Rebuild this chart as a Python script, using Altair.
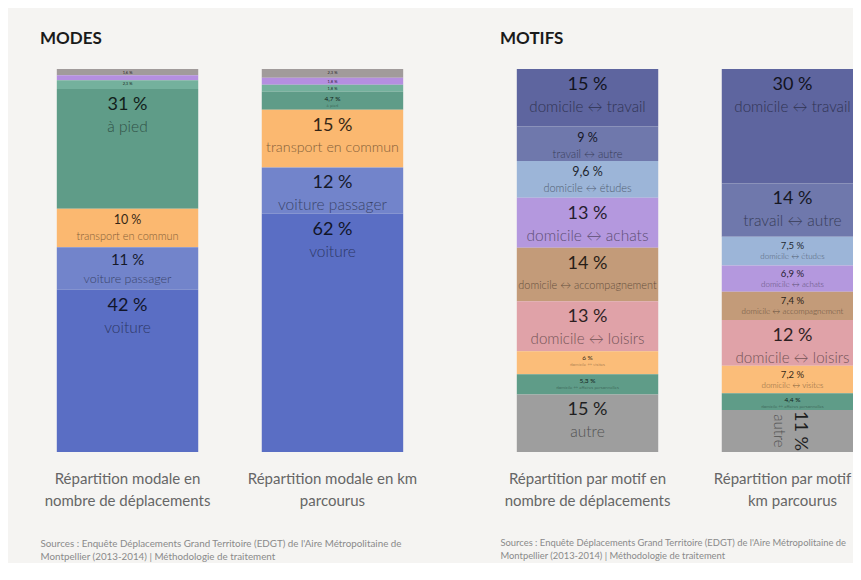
import altair as alt
import pandas as pd

# ---------------- data ----------------
mode_panels = ["Répartition modale en\nnombre de déplacements",
               "Répartition modale en km\nparcourus"]
mode_categories = ["autre", "deux-roues motorisés", "vélo", "à pied",
                   "transport en commun", "voiture passager", "voiture"]
mode_trips = [1.6, 1.3, 2.3, 31, 10, 11, 42]
mode_km = [2.3, 1.8, 1.8, 4.7, 15, 12, 62]

motif_panels = ["Répartition par motif en\nnombre de déplacements",
                "Répartition par motif en\nkm parcourus"]
motif_categories = ["domicile ↔ travail", "travail ↔ autre", "domicile ↔ études",
                    "domicile ↔ achats", "domicile ↔ accompagnement",
                    "domicile ↔ loisirs", "domicile ↔ visites",
                    "domicile ↔ affaires personnelles", "autre"]
motif_trips = [15, 9, 9.6, 13, 14, 13, 6, 5.3, 15]
motif_km = [30, 14, 7.5, 6.9, 7.4, 12, 7.2, 4.4, 11]

sources = ["Sources : Enquête Déplacements Grand Territoire (EDGT) de l'Aire Métropolitaine de",
           "Montpellier (2013-2014) | Méthodologie de traitement"]

# ---------------- styles ----------------
mode_colors = ["#a19b9b", "#b48fe0", "#74b19d", "#5f9c88", "#fbb870", "#7284cb", "#5a6ec4"]
motif_colors = ["#5e659f", "#6f78ac", "#9cb5d8", "#b498de", "#c39b79",
                "#e0a2a8", "#fbbd79", "#5f9c88", "#9e9e9e"]

FONT = "Lato"
# (min value, max value, pct size, label size, pct dy, label dy)
TIERS = [
    (12, 101, 18, 15.5, 16, 38),
    (11, 12, 15, 12.5, 13, 32),
    (8, 11, 12.5, 11, 11, 28),
    (6.5, 8, 9.5, 8, 9, 20),
    (4, 6.5, 6.5, 4.5, 7, 14),
    (1.5, 4, 4, None, 4, None),
]


def fmt(v):
    return f"{v:g}".replace(".", ",") + " %"


def build(title, panels, cats, series, colors, rotated_expr, source_size):
    rows = []
    for p, (panel, vals) in enumerate(zip(panels, series)):
        for i, (c, v) in enumerate(zip(cats, vals)):
            rows.append(dict(panel=panel, p=p, category=c, value=v, idx=i, pct=fmt(v)))
    df = pd.DataFrame(rows)

    base = (
        alt.Chart(df)
        .transform_joinaggregate(total="sum(value)", groupby=["panel"])
        .transform_window(cum="sum(value)", sort=[alt.SortField("idx")],
                          groupby=["panel"], frame=[None, 0])
        .transform_calculate(
            start="(datum.cum - datum.value) / datum.total",
            end="datum.cum / datum.total",
            mid="(datum.cum - datum.value / 2) / datum.total",
        )
    )

    xscale = alt.Scale(paddingInner=0.31, paddingOuter=0.082)
    yscale = alt.Scale(domain=[0, 1], reverse=True, nice=False, zero=False)
    x_axis = alt.X(
        "panel:N", sort=panels, scale=xscale,
        axis=alt.Axis(
            title=sources, labelExpr="split(datum.label, '\\n')",
            labelAngle=0, labelFontSize=15, labelColor="#666666", labelFont=FONT,
            labelLineHeight=22, labelPadding=19, labelLimit=400,
            domain=False, ticks=False, grid=False,
            titleFontSize=source_size, titleFontWeight="normal", titleColor="#8a8a8a",
            titleFont=FONT, titleAnchor="start", titleAlign="left",
            titleLineHeight=13, titlePadding=30,
        ),
    )

    bars = base.mark_bar().encode(
        y=alt.Y("start:Q", scale=yscale, axis=None),
        y2="end:Q",
        color=alt.Color("category:N", scale=alt.Scale(domain=cats, range=colors), legend=None),
    )

    layers = [bars]
    not_rot = f"!({rotated_expr})"
    for lo, hi, ps, ls, pdy, ldy in TIERS:
        flt = f"datum.value >= {lo} && datum.value < {hi} && {not_rot}"
        layers.append(
            base.transform_filter(flt)
            .mark_text(fontSize=ps, dy=pdy, baseline="middle", align="center",
                       font=FONT, color="#000000", opacity=0.8)
            .encode(y=alt.Y("start:Q", scale=yscale, axis=None), text="pct:N")
        )
        if ls is not None:
            layers.append(
                base.transform_filter(flt)
                .transform_calculate(lsize=f"min({ls}, 272 / length(datum.category))")
                .mark_text(dy=ldy, baseline="middle", align="center", font=FONT,
                           fontWeight=300, color="#000000", opacity=0.5)
                .encode(y=alt.Y("start:Q", scale=yscale, axis=None),
                        text="category:N", size=alt.Size("lsize:Q", scale=None))
            )
    # rotated labels (segments too short for stacked text)
    layers.append(
        base.transform_filter(rotated_expr)
        .mark_text(fontSize=18, angle=90, dy=-8, baseline="middle", align="center",
                   font=FONT, color="#000000", opacity=0.8)
        .encode(y=alt.Y("mid:Q", scale=yscale, axis=None), text="pct:N")
    )
    layers.append(
        base.transform_filter(rotated_expr)
        .mark_text(fontSize=15, angle=90, dy=13, baseline="middle", align="center",
                   font=FONT, fontWeight=300, color="#000000", opacity=0.5)
        .encode(y=alt.Y("mid:Q", scale=yscale, axis=None), text="category:N")
    )

    return alt.layer(*layers).encode(x=x_axis).properties(
        width=380, height=383,
        title=alt.TitleParams(title, anchor="start", fontSize=17, fontWeight="bold",
                              font=FONT, color="#1a1a1a", offset=21),
    )


modes = build("MODES", mode_panels, mode_categories, [mode_trips, mode_km],
              mode_colors, "false", 9.8)
motifs = build("MOTIFS", motif_panels, motif_categories, [motif_trips, motif_km],
               motif_colors, "datum.p == 1 && datum.category == 'autre'", 9.4)

# negative right padding crops the last panel at the window edge, as in the source
chart = (
    alt.hconcat(modes, motifs, spacing=80)
    .resolve_scale(color="independent")
    .properties(background="#f5f4f2",
                padding={"left": 32, "top": 22, "right": -27, "bottom": 2})
    .configure_view(stroke=None)
)

chart.save("out.html", embed_options={"renderer": "svg", "actions": False})
